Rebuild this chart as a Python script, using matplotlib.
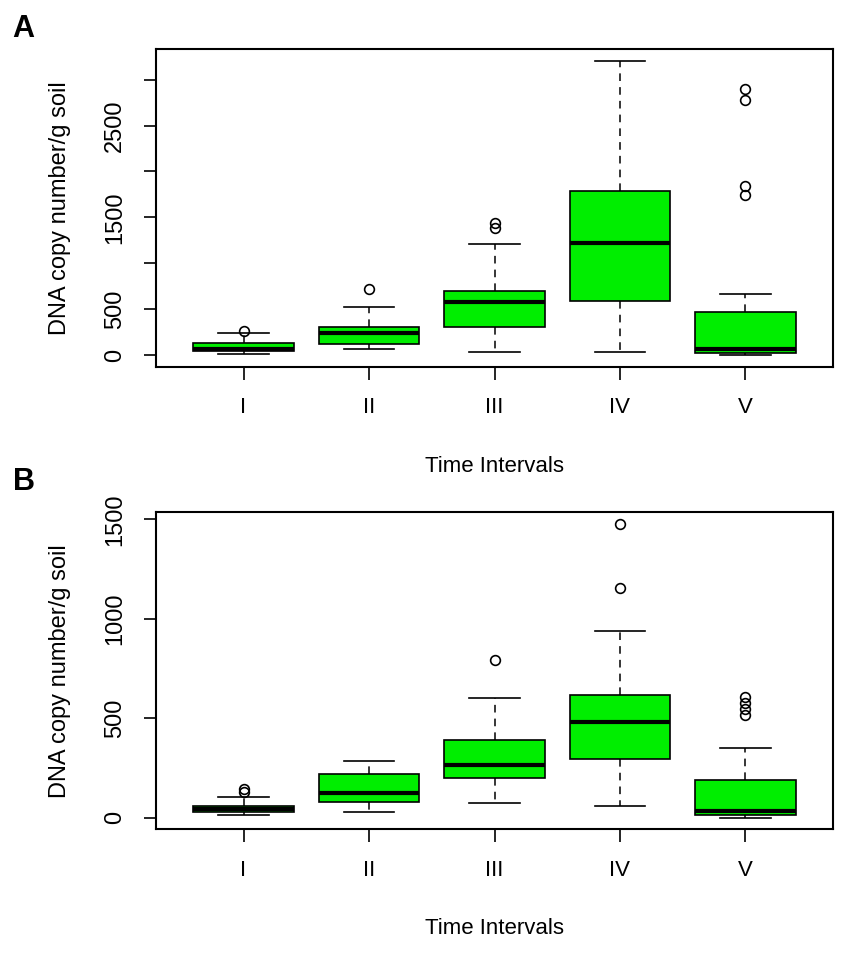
import matplotlib
matplotlib.use("Agg")
import matplotlib.pyplot as plt

plt.rcParams['font.family'] = ['Liberation Sans', 'DejaVu Sans']

labels = ["I", "II", "III", "IV", "V"]

# Panel A
a_q1 = [47, 123, 301, 591, 18]
a_med = [69, 243, 573, 1215, 65]
a_q3 = [127, 301, 700, 1785, 472]
a_whislo = [14, 62, 29, 29, 3]
a_whishi = [236, 526, 1211, 3207, 667]
a_fliers = [[261], [718], [1389, 1436], [], [1748, 1842, 2782, 2898]]
a_yticks = [0, 500, 1000, 1500, 2000, 2500, 3000]
a_yticklabels = ["0", "500", "", "1500", "", "2500", ""]

# Panel B
b_q1 = [27, 81, 200, 295, 15]
b_med = [44, 126, 265, 480, 35]
b_q3 = [60, 220, 391, 617, 190]
b_whislo = [15, 29, 74, 59, 0]
b_whishi = [104, 287, 602, 940, 352]
b_fliers = [[129, 143], [], [793], [1155, 1477], [516, 546, 575, 605]]
b_yticks = [0, 500, 1000, 1500]
b_yticklabels = ["0", "500", "1000", "1500"]

ylabel = "DNA copy number/g soil"
xlabel = "Time Intervals"

W, H = 847, 956
fig = plt.figure(figsize=(W / 100, H / 100), dpi=100)

def make_stats(q1, med, q3, lo, hi, fl):
    return [dict(q1=a, med=m, q3=b, whislo=l, whishi=h, fliers=f, label=lab)
            for a, m, b, l, h, f, lab in zip(q1, med, q3, lo, hi, fl, labels)]

def panel(rect, stats, ylim, yticks, yticklabels, letter, letter_y, xlabel_y):
    ax = fig.add_axes(rect)
    ax.bxp(stats, positions=range(1, len(stats) + 1), widths=0.8,
           patch_artist=True, capwidths=0.4,
           boxprops=dict(facecolor='#00EE00', edgecolor='black', linewidth=1.2),
           medianprops=dict(color='black', linewidth=3.0, solid_capstyle='butt'),
           whiskerprops=dict(color='black', linestyle=(0, (5, 4)), linewidth=1.1),
           capprops=dict(color='black', linewidth=1.2),
           flierprops=dict(marker='o', markerfacecolor='none', markeredgecolor='black',
                           markersize=7, markeredgewidth=1.2))
    ax.set_xlim(0.3, 5.7)
    ax.set_ylim(*ylim)
    ax.set_xticks(range(1, len(labels) + 1), labels)
    ax.set_yticks(yticks, yticklabels)
    for lab in ax.get_yticklabels():
        lab.set_rotation(90)
        lab.set_va('center')
    ax.tick_params(axis='both', length=9, width=1.2, color='black')
    ax.tick_params(axis='y', labelsize=17, pad=12.5)
    ax.tick_params(axis='x', labelsize=16, pad=13)
    for s in ax.spines.values():
        s.set_linewidth(1.5)
    pos = ax.get_position()
    fig.text(60 / W, pos.y0 + pos.height / 2, ylabel, rotation=90,
             ha='center', va='center', fontsize=17)
    fig.text(pos.x0 + pos.width / 2, 1 - xlabel_y / H, xlabel,
             ha='center', va='center', fontsize=16)
    fig.text(12.7 / W, 1 - letter_y / H, letter, fontsize=22, fontweight='bold',
             ha='left', va='baseline')
    return ax

panel([155.7 / W, 1 - 366.7 / H, 677.6 / W, 317.4 / H],
      make_stats(a_q1, a_med, a_q3, a_whislo, a_whishi, a_fliers),
      (-127, 3330), a_yticks, a_yticklabels, "A", 36.7, 466)

panel([155.7 / W, 1 - 829.3 / H, 677.6 / W, 317.0 / H],
      make_stats(b_q1, b_med, b_q3, b_whislo, b_whishi, b_fliers),
      (-58, 1535), b_yticks, b_yticklabels, "B", 490, 929)

fig.savefig("out.png", dpi=100)
